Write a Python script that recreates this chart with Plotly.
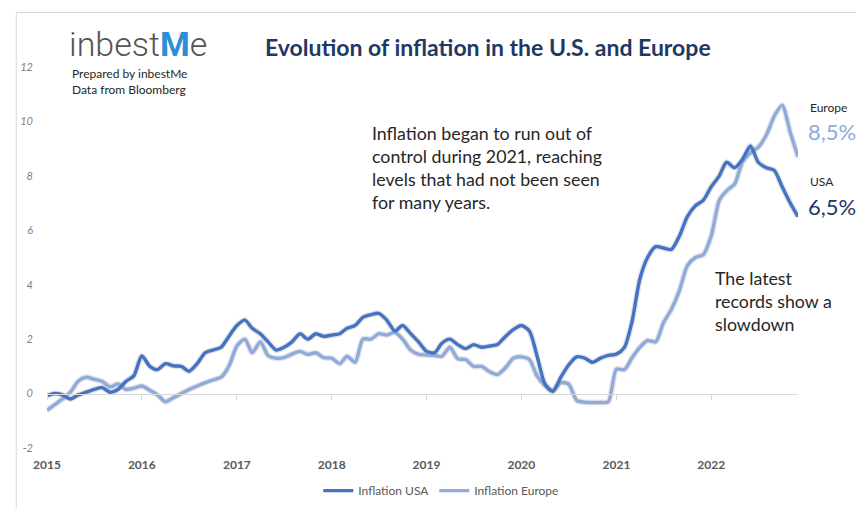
import pandas as pd
import plotly.graph_objects as go

# ---- data, monthly Jan 2015 .. Dec 2022 ----
months = pd.date_range("2015-01-01", periods=96, freq="MS")

usa = [
    -0.08, 0.0, -0.05, -0.2, -0.05, 0.05, 0.15, 0.22, 0.05, 0.15, 0.45, 0.65,   # 2015
    1.38, 1.0, 0.88, 1.1, 1.02, 1.0, 0.82, 1.1, 1.5, 1.6, 1.7, 2.1,             # 2016
    2.5, 2.7, 2.4, 2.2, 1.9, 1.6, 1.7, 1.9, 2.2, 2.0, 2.2, 2.1,                 # 2017
    2.15, 2.2, 2.4, 2.5, 2.8, 2.9, 2.95, 2.7, 2.3, 2.5, 2.2, 1.9,               # 2018
    1.55, 1.5, 1.85, 2.0, 1.8, 1.65, 1.8, 1.7, 1.75, 1.8, 2.1, 2.35,            # 2019
    2.5, 2.3, 1.4, 0.35, 0.08, 0.6, 1.05, 1.35, 1.3, 1.15, 1.3, 1.4,            # 2020
    1.45, 1.7, 2.6, 4.2, 5.0, 5.4, 5.35, 5.3, 5.8, 6.5, 6.9, 7.1,               # 2021
    7.6, 8.0, 8.5, 8.3, 8.6, 9.1, 8.5, 8.3, 8.2, 7.6, 7.0, 6.5,                 # 2022
]

europe = [
    -0.62, -0.4, -0.2, 0.05, 0.45, 0.6, 0.53, 0.45, 0.25, 0.35, 0.15, 0.2,      # 2015
    0.28, 0.12, -0.05, -0.3, -0.15, 0.0, 0.15, 0.28, 0.4, 0.5, 0.6, 1.0,        # 2016
    1.75, 2.0, 1.5, 1.9, 1.4, 1.3, 1.32, 1.45, 1.55, 1.44, 1.5, 1.32,           # 2017
    1.3, 1.1, 1.37, 1.15, 2.0, 2.0, 2.2, 2.15, 2.25, 2.0, 1.6, 1.44,            # 2018
    1.42, 1.4, 1.37, 1.7, 1.28, 1.25, 1.0, 1.0, 0.8, 0.7, 0.95, 1.3,            # 2019
    1.35, 1.25, 0.65, 0.3, 0.1, 0.4, 0.35, -0.25, -0.32, -0.33, -0.33, -0.3,    # 2020
    0.9, 0.88, 1.3, 1.7, 1.95, 1.9, 2.6, 3.1, 3.8, 4.7, 5.0, 5.1,               # 2021
    5.8, 7.1, 7.45, 7.7, 8.5, 8.85, 9.05, 9.5, 10.2, 10.6, 9.6, 8.7,            # 2022
]

year_ticks = pd.date_range("2015-01-01", "2022-01-01", freq="YS")
year_labels = [str(d.year) for d in year_ticks]

y_ticks = [-2, 0, 2, 4, 6, 8, 10, 12]
y_labels = ["-2", "0", "2", "4", "6", "8", "10", "12"]

last_usa_label = "6,5%"
last_europe_label = "8,5%"

USA_COLOR = "#4472C4"
EUR_COLOR = "#8FAADC"
NAVY = "#1F3864"
FONT = "Lato"

fig = go.Figure()

# soft shadows
for series in (europe, usa):
    fig.add_trace(go.Scatter(x=months, y=series, mode="lines",
                             line=dict(color="rgba(0,0,0,0.10)", width=6, shape="spline", smoothing=0.7),
                             hoverinfo="skip", showlegend=False))

fig.add_trace(go.Scatter(x=months, y=europe, mode="lines", name="Inflation Europe",
                         line=dict(color=EUR_COLOR, width=3.4, shape="spline", smoothing=0.7)))
fig.add_trace(go.Scatter(x=months, y=usa, mode="lines", name="Inflation USA",
                         line=dict(color=USA_COLOR, width=3.4, shape="spline", smoothing=0.7)))
# invisible trace on the zero-line axis so it is drawn
fig.add_trace(go.Scatter(x=months, y=usa, xaxis="x2", mode="lines", opacity=0,
                         hoverinfo="skip", showlegend=False))

ymin, ymax = y_ticks[0], y_ticks[-1]

# the page body adds an 8px offset; margins compensate so the plot area
# lands at screen x 40..798, y 67..452
fig.update_layout(
    width=864, height=509,
    margin=dict(l=32, r=74, t=59, b=65),
    paper_bgcolor="white", plot_bgcolor="white",
    font=dict(family=FONT, color="#595959"),
    showlegend=True,
    legend=dict(orientation="h", x=0.525, xanchor="center", y=-0.112, yanchor="middle",
                font=dict(size=12, color="#595959"), traceorder="reversed",
                itemwidth=30, bgcolor="rgba(0,0,0,0)"),
    xaxis=dict(type="date", range=[months[0], months[-1]],
               tickvals=year_ticks, ticktext=year_labels,
               showgrid=False, zeroline=False, showline=False, ticks="",
               tickfont=dict(size=12, color="#595959", weight="bold", family=FONT),
               ticklabelstandoff=8),
    xaxis2=dict(type="date", overlaying="x", matches="x", anchor="free",
                position=(0 - ymin) / (ymax - ymin), side="bottom",
                tickvals=year_ticks, showticklabels=False,
                showline=True, linecolor="#D9D9D9", linewidth=1,
                ticks="outside", ticklen=5, tickcolor="#D9D9D9",
                showgrid=False, zeroline=False),
    yaxis=dict(range=[ymin, ymax], tickvals=y_ticks, ticktext=y_labels,
               showgrid=False, zeroline=False, showline=False, ticks="",
               tickfont=dict(size=11, color="#7F7F7F", style="italic", family=FONT),
               ticklabelstandoff=13),
)

def px_x(px):
    return (px - 40) / 758.0

def px_y(py):
    return (452 - py) / 385.0

anns = [
    # logo
    dict(text="inbest<span style='color:#2B8FD8'><b>M</b></span>e", x=px_x(60), y=px_y(44),
         xanchor="left", yanchor="middle", font=dict(family="Roboto", size=34, color="#555555", weight=300)),
    dict(text="Prepared by inbestMe<br>Data from Bloomberg", x=px_x(63), y=px_y(64),
         xanchor="left", yanchor="top", align="left",
         font=dict(family=FONT, size=12, color="#262626")),
    # title
    dict(text="<b>Evolution of inflation in the U.S. and Europe</b>", x=px_x(485), y=px_y(47),
         xanchor="center", yanchor="middle", font=dict(family=FONT, size=23, color=NAVY)),
    # main comment
    dict(text="Inflation began to run out of<br>control during 2021, reaching<br>levels that had not been seen<br>for many years.",
         x=px_x(366), y=px_y(121), xanchor="left", yanchor="top", align="left",
         font=dict(family=FONT, size=17.8, color="#262626")),
    dict(text="The latest<br>records show a<br>slowdown",
         x=px_x(712), y=px_y(267), xanchor="left", yanchor="top", align="left",
         font=dict(family=FONT, size=17.8, color="#262626")),
    # right end labels
    dict(text="Europe", x=px_x(808), y=px_y(108), xanchor="left", yanchor="middle",
         font=dict(family=FONT, size=12, color="#262626")),
    dict(text=last_europe_label, x=px_x(806), y=px_y(132), xanchor="left", yanchor="middle",
         font=dict(family=FONT, size=22, color=EUR_COLOR)),
    dict(text="USA", x=px_x(808), y=px_y(183), xanchor="left", yanchor="middle",
         font=dict(family=FONT, size=12, color="#262626")),
    dict(text=last_usa_label, x=px_x(806), y=px_y(208), xanchor="left", yanchor="middle",
         font=dict(family=FONT, size=22, color=NAVY)),
]
for a in anns:
    fig.add_annotation(xref="paper", yref="paper", showarrow=False, **a)

# chart frame
fig.add_shape(type="rect", xref="paper", yref="paper",
              x0=px_x(9), x1=px_x(880), y0=px_y(530), y1=px_y(12),
              line=dict(color="#D9D9D9", width=1), layer="below")

fig.write_html("out.html")
